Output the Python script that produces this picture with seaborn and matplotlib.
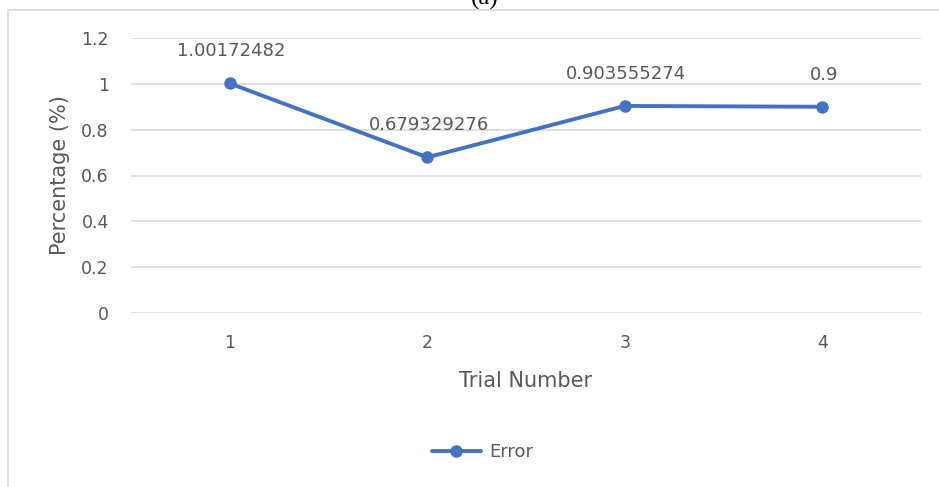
import pandas as pd
import seaborn as sns
import matplotlib.pyplot as plt
from matplotlib.lines import Line2D

trials = [1, 2, 3, 4]
error = [1.00172482, 0.679329276, 0.903555274, 0.9]
labels = ['1.00172482', '0.679329276', '0.903555274', '0.9']

df = pd.DataFrame({'Trial Number': trials, 'Error': error})

sns.set_style('white')
plt.rcParams['font.family'] = ['DejaVu Sans']

blue = '#4472C4'
grey = '#595959'

fig = plt.figure(figsize=(9.39, 4.87), dpi=100)
ax = fig.add_axes([131/939, 1 - 313/487, 790/939, 275/487])

sns.lineplot(data=df, x='Trial Number', y='Error', ax=ax, color=blue,
             linewidth=2.8, marker='o', markersize=9, markeredgewidth=0,
             label='Error')

for x, y, t in zip(trials, error, labels):
    ax.annotate(t, (x, y), xytext=(1, 23), textcoords='offset points',
                ha='center', va='center', fontsize=13, color=grey)

ax.set_xlim(0.5, 4.5)
ax.set_ylim(0, 1.2)
ax.set_xticks(trials)
ax.set_yticks([0, 0.2, 0.4, 0.6, 0.8, 1, 1.2])
ax.set_yticklabels(['0', '0.2', '0.4', '0.6', '0.8', '1', '1.2'])
ax.grid(axis='y', color='#D9D9D9', linewidth=1.2)
ax.set_axisbelow(True)
for s in ax.spines.values():
    s.set_visible(False)
ax.tick_params(axis='both', length=0, labelsize=12.5, labelcolor=grey)
ax.tick_params(axis='y', pad=16)
ax.tick_params(axis='x', pad=15)
ax.set_xlabel('Trial Number', fontsize=15, color=grey, labelpad=14)
ax.set_ylabel('Percentage (%)', fontsize=15, color=grey, labelpad=8)

ax.legend(loc='center', bbox_to_anchor=(0.445, -0.505), frameon=False,
          fontsize=13, labelcolor=grey, handlelength=2.7, handletextpad=0.45)

# outer chart border (top and left edges visible)
fig.add_artist(Line2D([8/939, 1], [1 - 10/487, 1 - 10/487], color='#D9D9D9', lw=1.2))
fig.add_artist(Line2D([8/939, 8/939], [0, 1 - 10/487], color='#D9D9D9', lw=1.2))
fig.text(485/939, 1 - 5/487, '(a)', ha='center', va='baseline', fontsize=18,
         family='Liberation Serif', color='black')

plt.savefig('out.png', dpi=100)
